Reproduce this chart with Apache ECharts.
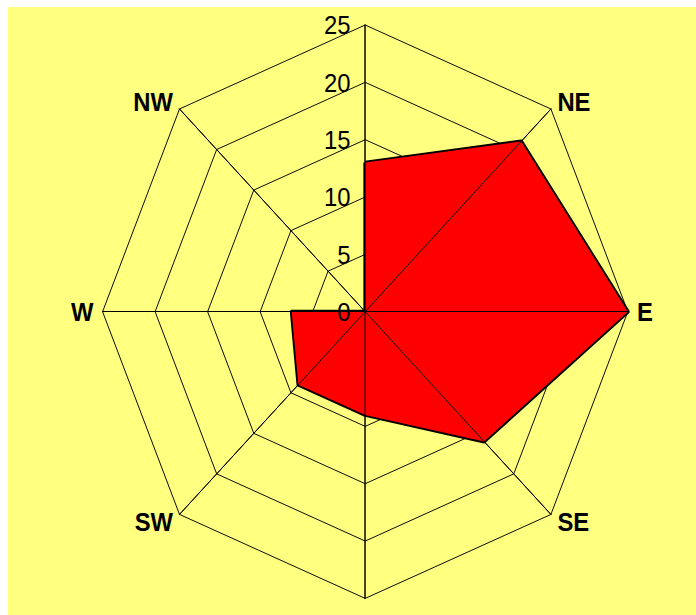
<!DOCTYPE html>
<html>
<head>
<meta charset="utf-8">
<script src="https://cdn.jsdelivr.net/npm/echarts@6/dist/echarts.min.js"></script>
<style>
  html, body { margin: 0; padding: 0; background: #ffffff; width: 696px; height: 615px; overflow: hidden; }
  #bg { position: absolute; left: 8px; top: 7px; width: 688px; height: 608px; background: #FFFF80; }
  #chart { position: absolute; left: 0; top: 0; width: 760px; height: 615px; transform: scaleX(0.916); transform-origin: 0 0; }
</style>
</head>
<body>
<div id="bg"></div>
<div id="chart"></div>
<script>
// Compass directions (clockwise from north) and their labels
const directions = ['N', 'NE', 'E', 'SE', 'S', 'SW', 'W', 'NW'];
const directionLabels = ['', 'NE', 'E', 'SE', '', 'SW', 'W', 'NW'];
const values = [13, 21, 25, 16, 9, 9, 7, 0];
const axisMax = 25;
const axisStep = 5;

// ECharts lays indicators counter-clockwise: N, NW, W, SW, S, SE, E, NE
const order = [0, 7, 6, 5, 4, 3, 2, 1];
const font = "'Liberation Sans', Arial, sans-serif";

function makeIndicators(withNames) {
  return order.map(function (i) {
    return { name: withNames ? directionLabels[i] : '', min: 0, max: axisMax };
  });
}

const labelIndicators = order.map(function (i, k) {
  const ind = { name: '', min: 0, max: axisMax };
  ind.axisLabel = { show: k === 0 };
  return ind;
});

const common = {
  center: [398.7, 311.7],
  radius: 286.7,
  startAngle: 90,
  splitNumber: axisMax / axisStep,
  shape: 'polygon'
};

const chart = echarts.init(document.getElementById('chart'), null, { renderer: 'svg' });
chart.setOption({
  backgroundColor: 'transparent',
  animation: false,
  radar: [
    Object.assign({}, common, {
      z: 0,
      indicator: makeIndicators(true),
      nameGap: 10,
      axisName: { color: '#000', fontSize: 26, fontWeight: 'bold', fontFamily: font },
      splitLine: { show: true, lineStyle: { color: '#000', width: 1 } },
      splitArea: { show: false },
      axisLine: { show: true, lineStyle: { color: '#000', width: 1 } },
      axisTick: { show: false },
      axisLabel: { show: false }
    }),
    Object.assign({}, common, {
      z: 5,
      indicator: labelIndicators,
      axisName: { show: false },
      splitLine: { show: false },
      splitArea: { show: false },
      axisLine: { show: true, lineStyle: { color: '#000', width: 1 } },
      axisTick: { show: false },
      axisLabel: { show: false, color: '#000', fontSize: 26, fontFamily: font, margin: 16 }
    })
  ],
  series: [{
    type: 'radar',
    radarIndex: 0,
    z: 2,
    symbol: 'none',
    lineStyle: { color: '#000', width: 4, opacity: 1 },
    areaStyle: { color: '#FF0000', opacity: 1 },
    data: [{
      name: 'Wind',
      value: order.map(function (i) { return values[i]; }),
      lineStyle: { color: '#000', width: 4, opacity: 1 },
      areaStyle: { color: '#FF0000', opacity: 1 }
    }]
  }]
});
</script>
</body>
</html>
